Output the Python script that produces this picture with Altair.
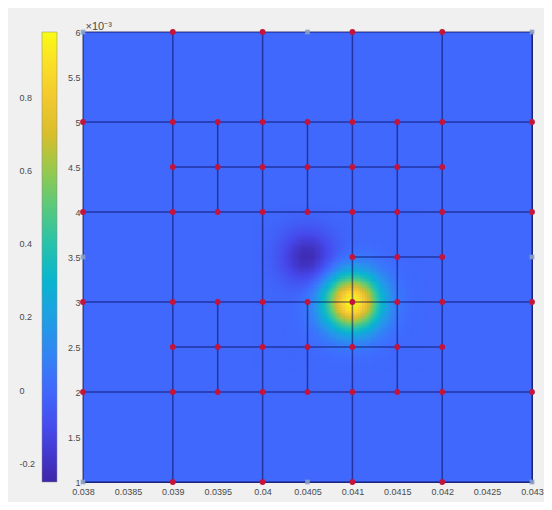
import numpy as np
import pandas as pd
import altair as alt

# ---- axes ranges and ticks ----
X_DOMAIN = [0.038, 0.043]
Y_DOMAIN = [0.001, 0.006]
x_ticks = [0.038, 0.0385, 0.039, 0.0395, 0.04, 0.0405, 0.041, 0.0415, 0.042, 0.0425, 0.043]
y_ticks = [0.001, 0.0015, 0.002, 0.0025, 0.003, 0.0035, 0.004, 0.0045, 0.005, 0.0055, 0.006]
cbar_ticks = [-0.2, 0, 0.2, 0.4, 0.6, 0.8]
c_domain = [-0.25, 0.98]

# parula colour stops
parula = ["#3e26a8", "#4747eb", "#3e6fff", "#2796eb", "#08b5d0",
          "#31c69f", "#81cc59", "#dcbd29", "#fccf30", "#f9fb15"]

# ---- field: two bumps ----
blob_cx = [0.041, 0.0405]
blob_cy = [0.003, 0.0035]
blob_peak = [0.98, -0.23]
blob_sigma = [0.00022, 0.00021]

# ---- mesh: horizontal segments (y, x from, x to) ----
h_y = [0.001, 0.002, 0.003, 0.004, 0.005, 0.006, 0.0025, 0.0045, 0.0035]
h_x0 = [0.038, 0.038, 0.038, 0.038, 0.038, 0.038, 0.039, 0.039, 0.041]
h_x1 = [0.043, 0.043, 0.043, 0.043, 0.043, 0.043, 0.042, 0.042, 0.042]
# vertical segments (x, y from, y to)
v_x = [0.038, 0.039, 0.040, 0.041, 0.042, 0.043, 0.0395, 0.0395, 0.0405, 0.0405, 0.0415]
v_y0 = [0.001, 0.001, 0.001, 0.001, 0.001, 0.001, 0.002, 0.004, 0.002, 0.004, 0.002]
v_y1 = [0.006, 0.006, 0.006, 0.006, 0.006, 0.006, 0.003, 0.005, 0.003, 0.005, 0.005]

# ---- nodes ----
full_row = [0.038, 0.039, 0.0395, 0.040, 0.0405, 0.041, 0.0415, 0.042, 0.043]
inner_row = [0.039, 0.0395, 0.040, 0.0405, 0.041, 0.0415, 0.042]
edge_row = [0.039, 0.040, 0.041, 0.042]
node_rows = {
    0.006: edge_row,
    0.005: full_row,
    0.0045: inner_row,
    0.004: full_row,
    0.0035: [0.041, 0.0415, 0.042],
    0.003: full_row,
    0.0025: inner_row,
    0.002: full_row,
    0.001: edge_row,
}
sq_x = [0.038, 0.0405, 0.043, 0.038, 0.043, 0.038, 0.0405, 0.043]
sq_y = [0.006, 0.006, 0.006, 0.0035, 0.0035, 0.001, 0.001, 0.001]

# ---- build tables ----
step = 0.000025
xs = np.arange(0.0399, 0.0418 + step / 2, step)
ys = np.arange(0.00225, 0.00405 + step / 2, step)
gx, gy = np.meshgrid(xs, ys)
val = np.zeros_like(gx)
for cx, cy, a, s in zip(blob_cx, blob_cy, blob_peak, blob_sigma):
    val += a * np.exp(-((gx - cx) ** 2 + (gy - cy) ** 2) / (2 * s * s))
heat = pd.DataFrame({
    "x": (gx - 0.6 * step).ravel(), "x2": (gx + 0.6 * step).ravel(),
    "y": (gy - 0.6 * step).ravel(), "y2": (gy + 0.6 * step).ravel(),
    "v": val.ravel(),
})
bg = pd.DataFrame({"x": [X_DOMAIN[0]], "x2": [X_DOMAIN[1]],
                   "y": [Y_DOMAIN[0]], "y2": [Y_DOMAIN[1]], "v": [0.0]})
hseg = pd.DataFrame({"y": h_y, "x": h_x0, "x2": h_x1})
vseg = pd.DataFrame({"x": v_x, "y": v_y0, "y2": v_y1})
nodes = pd.DataFrame([(x, y) for y, row in node_rows.items() for x in row], columns=["x", "y"])
squares = pd.DataFrame({"x": sq_x, "y": sq_y})

FONT = "Liberation Sans"
LAB = "#4a4a4a"

xscale = alt.Scale(domain=X_DOMAIN, nice=False, zero=False)
yscale = alt.Scale(domain=Y_DOMAIN, nice=False, zero=False)
xaxis = alt.Axis(values=x_ticks, labelExpr="format(datum.value, '~g')", ticks=False,
                 grid=False, domain=False, title=None, labelPadding=5,
                 labelFontSize=9, labelColor=LAB, labelFont=FONT, labelFlush=False)
yaxis = alt.Axis(values=y_ticks, labelExpr="format(datum.value * 1000, '~g')", ticks=False,
                 grid=False, domain=False, title="×10⁻³", titleAngle=0, titleAlign="left",
                 titleBaseline="bottom", titleX=2, titleY=-1, titleFont=FONT,
                 titleFontSize=11, titleFontWeight="normal", titleColor=LAB,
                 labelPadding=3, labelFontSize=9, labelColor=LAB, labelFont=FONT,
                 labelFlush=False)

# labels are padded with fixed-width spaces so that they line up on the right
cbar_label = ("datum.value == 0 ? '\u2004\u2007\u2008' + '0' : "
              "(datum.value < 0 ? '-' + format(-datum.value, '.1f') : "
              "'\u2004' + format(datum.value, '.1f'))")

cscale = alt.Scale(domain=c_domain, range=parula, interpolate="rgb", nice=False, zero=False)
legend = alt.Legend(orient="none", legendX=-41, legendY=0, direction="vertical",
                    gradientLength=450, gradientThickness=15, title=None, padding=0,
                    values=cbar_ticks, labelOffset=alt.ExprRef("-37.5"),
                    labelExpr=cbar_label,
                    labelFontSize=9, labelColor=LAB, labelFont=FONT, labelOverlap=False,
                    gradientStrokeColor="#888888", gradientStrokeWidth=0.5)

def X(f="x"):
    return alt.X(f"{f}:Q", scale=xscale, axis=xaxis)

def Y(f="y"):
    return alt.Y(f"{f}:Q", scale=yscale, axis=yaxis)

background = alt.Chart(bg).mark_rect().encode(
    x=X(), x2="x2", y=Y(), y2="y2",
    color=alt.Color("v:Q", scale=cscale, legend=legend),
)
field = alt.Chart(heat).mark_rect(strokeWidth=0).encode(
    x=X(), x2="x2", y=Y(), y2="y2",
    color=alt.Color("v:Q", scale=cscale, legend=legend),
)
hlines = alt.Chart(hseg).mark_rule(color="#000050", opacity=0.5, strokeWidth=1.5).encode(
    x=X(), x2="x2", y=Y())
vlines = alt.Chart(vseg).mark_rule(color="#000050", opacity=0.5, strokeWidth=1.5).encode(
    x=X(), y=Y(), y2="y2")
dots = alt.Chart(nodes).mark_circle(color="#c4143c", opacity=1, size=34).encode(
    x=X(), y=Y())
sqs = alt.Chart(squares).mark_square(color="#8aa0c8", opacity=0.9, size=22).encode(
    x=X(), y=Y())

chart = alt.layer(background, field, hlines, vlines, dots, sqs).properties(
    width=449, height=450,
    autosize=alt.AutoSizeParams(type="none"),
    padding={"left": 75, "top": 24, "right": 12, "bottom": 20},
    background="#f0f0f0",
).configure_view(stroke="#2a3a90", strokeWidth=1)

chart.save("out.html", embed_options={"renderer": "svg", "actions": False})
